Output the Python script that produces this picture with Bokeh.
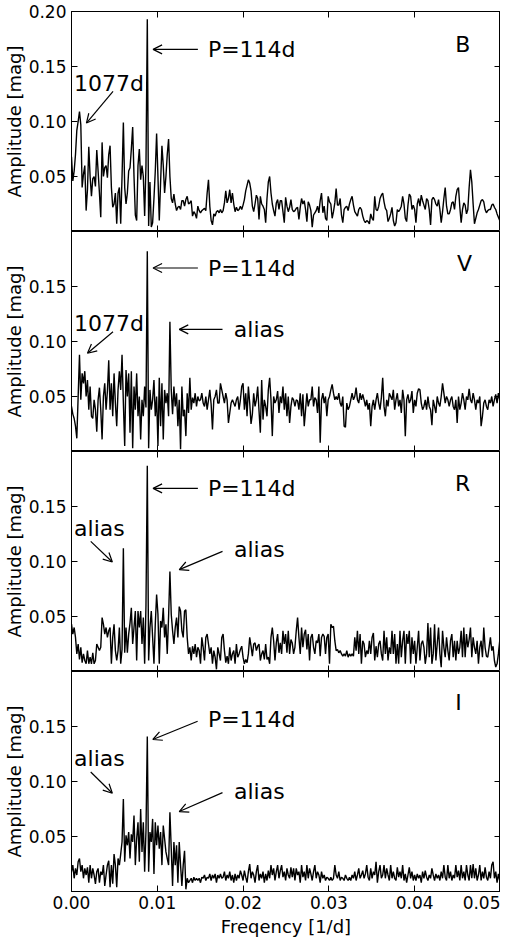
from bokeh.plotting import figure
from bokeh.models import (Range1d, LinearAxis, FixedTicker, PrintfTickFormatter,
                          Label, Arrow, OpenHead)
from bokeh.layouts import column
from bokeh.embed import file_html
from bokeh.resources import INLINE

# ---------------- data ----------------
# frequency grid in micro-cycles per day
FREQ_UD = [
    0, 155, 310, 465, 620, 775, 930, 1085, 1240, 1395,
    1550, 1705, 1860, 2015, 2170, 2325, 2480, 2635, 2790, 2945,
    3100, 3255, 3410, 3565, 3720, 3875, 4030, 4185, 4340, 4495,
    4650, 4805, 4960, 5115, 5270, 5425, 5580, 5735, 5890, 6045,
    6200, 6355, 6510, 6665, 6820, 6975, 7130, 7285, 7440, 7595,
    7750, 7905, 8060, 8215, 8370, 8525, 8680, 8835, 8990, 9145,
    9300, 9455, 9610, 9765, 9920, 10075, 10230, 10385, 10540, 10695,
    10850, 11005, 11160, 11315, 11470, 11625, 11780, 11935, 12090, 12245,
    12400, 12555, 12710, 12865, 13020, 13175, 13330, 13485, 13640, 13795,
    13950, 14105, 14260, 14415, 14570, 14725, 14880, 15035, 15190, 15345,
    15500, 15655, 15810, 15965, 16120, 16275, 16430, 16585, 16740, 16895,
    17050, 17205, 17360, 17515, 17670, 17825, 17980, 18135, 18290, 18445,
    18600, 18755, 18910, 19065, 19220, 19375, 19530, 19685, 19840, 19995,
    20150, 20305, 20460, 20615, 20770, 20925, 21080, 21235, 21390, 21545,
    21700, 21855, 22010, 22165, 22320, 22475, 22630, 22785, 22940, 23095,
    23250, 23405, 23560, 23715, 23870, 24025, 24180, 24335, 24490, 24645,
    24800, 24955, 25110, 25265, 25420, 25575, 25730, 25885, 26040, 26195,
    26350, 26505, 26660, 26815, 26970, 27125, 27280, 27435, 27590, 27745,
    27900, 28055, 28210, 28365, 28520, 28675, 28830, 28985, 29140, 29295,
    29450, 29605, 29760, 29915, 30070, 30225, 30380, 30535, 30690, 30845,
    31000, 31155, 31310, 31465, 31620, 31775, 31930, 32085, 32240, 32395,
    32550, 32705, 32860, 33015, 33170, 33325, 33480, 33635, 33790, 33945,
    34100, 34255, 34410, 34565, 34720, 34875, 35030, 35185, 35340, 35495,
    35650, 35805, 35960, 36115, 36270, 36425, 36580, 36735, 36890, 37045,
    37200, 37355, 37510, 37665, 37820, 37975, 38130, 38285, 38440, 38595,
    38750, 38905, 39060, 39215, 39370, 39525, 39680, 39835, 39990, 40145,
    40300, 40455, 40610, 40765, 40920, 41075, 41230, 41385, 41540, 41695,
    41850, 42005, 42160, 42315, 42470, 42625, 42780, 42935, 43090, 43245,
    43400, 43555, 43710, 43865, 44020, 44175, 44330, 44485, 44640, 44795,
    44950, 45105, 45260, 45415, 45570, 45725, 45880, 46035, 46190, 46345,
    46500, 46655, 46810, 46965, 47120, 47275, 47430, 47585, 47740, 47895,
    48050, 48205, 48360, 48515, 48670, 48825, 48980, 49135, 49290, 49445,
    49600, 49755, 49910,
]

AMP_B = [
    0.068, 0.046, 0.055, 0.070, 0.092, 0.100, 0.109, 0.097, 0.040, 0.052,
    0.060, 0.019, 0.038, 0.077, 0.050, 0.032, 0.048, 0.050, 0.041, 0.074,
    0.055, 0.035, 0.013, 0.081, 0.050, 0.058, 0.060, 0.049, 0.070, 0.078,
    0.040, 0.022, 0.025, 0.035, 0.007, 0.035, 0.040, 0.007, 0.050, 0.099,
    0.040, 0.025, 0.035, 0.055, 0.058, 0.075, 0.095, 0.050, 0.015, 0.010,
    0.060, 0.075, 0.047, 0.060, 0.050, 0.014, 0.060, 0.193, 0.005, 0.045,
    0.004, 0.008, 0.030, 0.055, 0.089, 0.050, 0.010, 0.045, 0.078, 0.060,
    0.035, 0.050, 0.070, 0.084, 0.050, 0.030, 0.026, 0.034, 0.025, 0.019,
    0.022, 0.023, 0.020, 0.028, 0.028, 0.023, 0.029, 0.032, 0.025, 0.026,
    0.028, 0.014, 0.018, 0.016, 0.012, 0.023, 0.019, 0.017, 0.019, 0.020,
    0.021, 0.019, 0.035, 0.047, 0.023, 0.010, 0.006, 0.016, 0.014, 0.018,
    0.019, 0.017, 0.020, 0.017, 0.019, 0.026, 0.037, 0.026, 0.030, 0.038,
    0.026, 0.035, 0.025, 0.018, 0.022, 0.019, 0.020, 0.023, 0.020, 0.024,
    0.029, 0.037, 0.042, 0.047, 0.044, 0.037, 0.023, 0.018, 0.025, 0.033,
    0.030, 0.011, 0.032, 0.025, 0.023, 0.020, 0.008, 0.030, 0.045, 0.050,
    0.035, 0.025, 0.019, 0.014, 0.026, 0.029, 0.020, 0.028, 0.028, 0.018,
    0.008, 0.031, 0.023, 0.018, 0.022, 0.029, 0.020, 0.018, 0.019, 0.021,
    0.022, 0.011, 0.022, 0.030, 0.025, 0.028, 0.020, 0.009, 0.027, 0.024,
    0.019, 0.004, 0.015, 0.017, 0.019, 0.023, 0.017, 0.028, 0.035, 0.017,
    0.023, 0.012, 0.010, 0.032, 0.027, 0.025, 0.012, 0.018, 0.026, 0.039,
    0.024, 0.024, 0.030, 0.015, 0.008, 0.020, 0.022, 0.023, 0.019, 0.025,
    0.029, 0.032, 0.024, 0.018, 0.016, 0.014, 0.020, 0.022, 0.020, 0.014,
    0.010, 0.008, 0.010, 0.009, 0.007, 0.016, 0.012, 0.010, 0.032, 0.020,
    0.019, 0.023, 0.030, 0.033, 0.035, 0.027, 0.021, 0.019, 0.009, 0.012,
    0.016, 0.022, 0.010, 0.005, 0.008, 0.020, 0.018, 0.020, 0.023, 0.032,
    0.025, 0.012, 0.009, 0.024, 0.034, 0.032, 0.020, 0.024, 0.020, 0.008,
    0.025, 0.030, 0.023, 0.033, 0.028, 0.024, 0.020, 0.030, 0.028, 0.020,
    0.006, 0.029, 0.031, 0.029, 0.025, 0.023, 0.029, 0.020, 0.008, 0.018,
    0.030, 0.040, 0.023, 0.016, 0.016, 0.020, 0.026, 0.027, 0.020, 0.032,
    0.038, 0.040, 0.022, 0.008, 0.020, 0.026, 0.024, 0.016, 0.020, 0.040,
    0.056, 0.045, 0.025, 0.007, 0.012, 0.017, 0.020, 0.024, 0.028, 0.029,
    0.027, 0.020, 0.017, 0.019, 0.020, 0.020, 0.024, 0.025, 0.022, 0.020,
    0.016, 0.013, 0.010,
]

AMP_V = [
    0.041, 0.034, 0.030, 0.023, 0.012, 0.050, 0.088, 0.047, 0.071, 0.062,
    0.073, 0.050, 0.065, 0.038, 0.059, 0.032, 0.030, 0.047, 0.038, 0.018,
    0.047, 0.058, 0.038, 0.011, 0.050, 0.062, 0.038, 0.055, 0.083, 0.038,
    0.062, 0.032, 0.071, 0.044, 0.023, 0.056, 0.073, 0.056, 0.088, 0.044,
    0.005, 0.074, 0.050, 0.071, 0.017, 0.073, 0.003, 0.059, 0.038, 0.071,
    0.032, 0.050, 0.011, 0.047, 0.032, 0.059, 0.040, 0.182, 0.003, 0.056,
    0.038, 0.047, 0.065, 0.032, 0.050, 0.005, 0.067, 0.023, 0.062, 0.011,
    0.056, 0.044, 0.053, 0.032, 0.118, 0.056, 0.034, 0.059, 0.041, 0.053,
    0.023, 0.047, 0.002, 0.059, 0.032, 0.038, 0.014, 0.053, 0.035, 0.067,
    0.038, 0.049, 0.044, 0.053, 0.041, 0.050, 0.046, 0.047, 0.053, 0.044,
    0.041, 0.050, 0.038, 0.047, 0.056, 0.043, 0.020, 0.047, 0.050, 0.056,
    0.044, 0.044, 0.062, 0.056, 0.050, 0.044, 0.053, 0.047, 0.026, 0.035,
    0.044, 0.047, 0.044, 0.041, 0.047, 0.050, 0.038, 0.047, 0.059, 0.062,
    0.038, 0.053, 0.032, 0.059, 0.044, 0.025, 0.034, 0.053, 0.041, 0.047,
    0.059, 0.037, 0.017, 0.065, 0.029, 0.047, 0.041, 0.032, 0.056, 0.067,
    0.047, 0.014, 0.050, 0.044, 0.047, 0.055, 0.035, 0.050, 0.044, 0.059,
    0.038, 0.053, 0.032, 0.050, 0.026, 0.041, 0.049, 0.047, 0.041, 0.047,
    0.046, 0.038, 0.053, 0.032, 0.052, 0.023, 0.038, 0.053, 0.041, 0.047,
    0.047, 0.059, 0.041, 0.049, 0.047, 0.035, 0.059, 0.008, 0.047, 0.053,
    0.044, 0.050, 0.032, 0.047, 0.050, 0.056, 0.061, 0.053, 0.047, 0.050,
    0.047, 0.053, 0.044, 0.041, 0.050, 0.023, 0.022, 0.044, 0.038, 0.041,
    0.047, 0.053, 0.047, 0.050, 0.058, 0.047, 0.044, 0.053, 0.047, 0.052,
    0.047, 0.041, 0.047, 0.038, 0.044, 0.023, 0.041, 0.047, 0.038, 0.047,
    0.053, 0.044, 0.038, 0.049, 0.067, 0.041, 0.032, 0.047, 0.041, 0.053,
    0.050, 0.047, 0.056, 0.038, 0.047, 0.053, 0.041, 0.047, 0.035, 0.056,
    0.047, 0.014, 0.047, 0.052, 0.044, 0.047, 0.055, 0.035, 0.047, 0.041,
    0.053, 0.057, 0.056, 0.044, 0.038, 0.041, 0.047, 0.038, 0.050, 0.041,
    0.038, 0.024, 0.047, 0.041, 0.035, 0.050, 0.044, 0.041, 0.050, 0.062,
    0.053, 0.044, 0.050, 0.047, 0.041, 0.047, 0.050, 0.041, 0.038, 0.047,
    0.026, 0.050, 0.038, 0.044, 0.053, 0.047, 0.038, 0.050, 0.047, 0.057,
    0.047, 0.044, 0.053, 0.047, 0.038, 0.047, 0.044, 0.050, 0.023, 0.032,
    0.044, 0.047, 0.041, 0.038, 0.047, 0.044, 0.050, 0.041, 0.047, 0.052,
    0.044, 0.053, 0.047,
]

AMP_R = [
    0.043, 0.034, 0.040, 0.031, 0.016, 0.025, 0.011, 0.022, 0.008, 0.016,
    0.010, 0.007, 0.019, 0.007, 0.013, 0.007, 0.017, 0.007, 0.010, 0.025,
    0.022, 0.019, 0.022, 0.049, 0.043, 0.034, 0.040, 0.031, 0.037, 0.040,
    0.007, 0.031, 0.043, 0.019, 0.010, 0.019, 0.040, 0.007, 0.020, 0.112,
    0.017, 0.040, 0.017, 0.034, 0.044, 0.058, 0.025, 0.040, 0.055, 0.010,
    0.055, 0.040, 0.055, 0.025, 0.049, 0.007, 0.060, 0.187, 0.010, 0.040,
    0.055, 0.031, 0.007, 0.043, 0.070, 0.052, 0.007, 0.046, 0.040, 0.058,
    0.031, 0.043, 0.016, 0.050, 0.091, 0.052, 0.037, 0.025, 0.040, 0.049,
    0.031, 0.059, 0.055, 0.037, 0.031, 0.055, 0.056, 0.031, 0.016, 0.022,
    0.010, 0.023, 0.016, 0.025, 0.013, 0.022, 0.019, 0.007, 0.031, 0.022,
    0.010, 0.031, 0.034, 0.025, 0.016, 0.022, 0.007, 0.019, 0.013, 0.002,
    0.022, 0.016, 0.010, 0.031, 0.034, 0.019, 0.008, 0.014, 0.007, 0.022,
    0.010, 0.016, 0.019, 0.007, 0.025, 0.013, 0.016, 0.020, 0.023, 0.013,
    0.007, 0.011, 0.008, 0.016, 0.031, 0.023, 0.014, 0.025, 0.026, 0.019,
    0.023, 0.025, 0.010, 0.016, 0.019, 0.011, 0.025, 0.011, 0.013, 0.007,
    0.031, 0.040, 0.028, 0.010, 0.026, 0.034, 0.017, 0.026, 0.016, 0.037,
    0.025, 0.034, 0.017, 0.037, 0.016, 0.029, 0.026, 0.016, 0.022, 0.037,
    0.049, 0.031, 0.016, 0.040, 0.022, 0.034, 0.038, 0.020, 0.034, 0.010,
    0.031, 0.034, 0.022, 0.016, 0.028, 0.026, 0.034, 0.014, 0.031, 0.034,
    0.032, 0.016, 0.031, 0.034, 0.007, 0.043, 0.040, 0.041, 0.028, 0.019,
    0.020, 0.017, 0.019, 0.016, 0.014, 0.016, 0.014, 0.019, 0.013, 0.016,
    0.014, 0.016, 0.014, 0.031, 0.019, 0.037, 0.016, 0.034, 0.007, 0.028,
    0.025, 0.013, 0.019, 0.016, 0.028, 0.016, 0.031, 0.035, 0.010, 0.023,
    0.013, 0.025, 0.028, 0.016, 0.010, 0.037, 0.016, 0.031, 0.010, 0.022,
    0.016, 0.037, 0.016, 0.034, 0.007, 0.025, 0.007, 0.037, 0.013, 0.028,
    0.037, 0.007, 0.034, 0.025, 0.037, 0.007, 0.031, 0.016, 0.028, 0.007,
    0.022, 0.037, 0.010, 0.025, 0.028, 0.022, 0.007, 0.016, 0.044, 0.013,
    0.040, 0.007, 0.016, 0.043, 0.010, 0.025, 0.040, 0.016, 0.004, 0.037,
    0.022, 0.013, 0.031, 0.019, 0.010, 0.028, 0.034, 0.013, 0.028, 0.010,
    0.028, 0.016, 0.022, 0.037, 0.013, 0.040, 0.013, 0.034, 0.022, 0.029,
    0.040, 0.013, 0.031, 0.022, 0.016, 0.028, 0.007, 0.022, 0.028, 0.013,
    0.040, 0.022, 0.014, 0.013, 0.022, 0.031, 0.019, 0.023, 0.010, 0.004,
    0.007, 0.016, 0.028,
]

AMP_I = [
    0.018, 0.024, 0.012, 0.021, 0.015, 0.027, 0.030, 0.018, 0.024, 0.012,
    0.021, 0.015, 0.022, 0.008, 0.024, 0.012, 0.021, 0.015, 0.007, 0.018,
    0.021, 0.008, 0.018, 0.015, 0.024, 0.005, 0.015, 0.024, 0.028, 0.004,
    0.024, 0.007, 0.034, 0.024, 0.004, 0.030, 0.024, 0.034, 0.045, 0.084,
    0.027, 0.051, 0.042, 0.054, 0.030, 0.052, 0.045, 0.069, 0.024, 0.048,
    0.063, 0.027, 0.075, 0.036, 0.063, 0.018, 0.055, 0.141, 0.018, 0.054,
    0.045, 0.066, 0.016, 0.063, 0.042, 0.060, 0.039, 0.054, 0.024, 0.060,
    0.048, 0.036, 0.030, 0.024, 0.072, 0.039, 0.005, 0.045, 0.024, 0.042,
    0.008, 0.045, 0.024, 0.005, 0.024, 0.037, 0.002, 0.012, 0.008, 0.010,
    0.012, 0.008, 0.013, 0.010, 0.012, 0.010, 0.012, 0.008, 0.013, 0.012,
    0.015, 0.010, 0.013, 0.012, 0.016, 0.010, 0.015, 0.012, 0.016, 0.008,
    0.015, 0.012, 0.016, 0.012, 0.013, 0.018, 0.010, 0.015, 0.012, 0.018,
    0.010, 0.015, 0.008, 0.016, 0.010, 0.015, 0.012, 0.019, 0.015, 0.010,
    0.019, 0.013, 0.008, 0.018, 0.025, 0.012, 0.018, 0.015, 0.008, 0.018,
    0.024, 0.010, 0.016, 0.012, 0.018, 0.008, 0.016, 0.010, 0.019, 0.012,
    0.024, 0.015, 0.021, 0.010, 0.018, 0.024, 0.012, 0.019, 0.024, 0.013,
    0.018, 0.010, 0.021, 0.015, 0.012, 0.022, 0.013, 0.021, 0.010, 0.021,
    0.015, 0.018, 0.008, 0.024, 0.013, 0.018, 0.010, 0.024, 0.012, 0.021,
    0.016, 0.010, 0.018, 0.024, 0.012, 0.018, 0.015, 0.008, 0.018, 0.012,
    0.015, 0.010, 0.013, 0.012, 0.010, 0.013, 0.010, 0.012, 0.024, 0.015,
    0.012, 0.018, 0.010, 0.013, 0.012, 0.010, 0.015, 0.012, 0.010, 0.013,
    0.010, 0.015, 0.012, 0.018, 0.010, 0.015, 0.021, 0.012, 0.015, 0.019,
    0.012, 0.016, 0.024, 0.013, 0.010, 0.021, 0.012, 0.018, 0.015, 0.027,
    0.008, 0.018, 0.024, 0.012, 0.015, 0.024, 0.012, 0.021, 0.015, 0.010,
    0.024, 0.012, 0.018, 0.012, 0.010, 0.022, 0.013, 0.018, 0.012, 0.024,
    0.010, 0.016, 0.008, 0.015, 0.022, 0.012, 0.018, 0.010, 0.015, 0.010,
    0.016, 0.012, 0.015, 0.008, 0.018, 0.012, 0.019, 0.013, 0.010, 0.015,
    0.012, 0.021, 0.015, 0.010, 0.016, 0.012, 0.015, 0.010, 0.018, 0.012,
    0.024, 0.013, 0.010, 0.024, 0.012, 0.018, 0.010, 0.015, 0.012, 0.024,
    0.013, 0.019, 0.010, 0.024, 0.012, 0.018, 0.010, 0.024, 0.015, 0.010,
    0.024, 0.012, 0.025, 0.012, 0.021, 0.010, 0.015, 0.024, 0.010, 0.018,
    0.012, 0.022, 0.013, 0.010, 0.018, 0.012, 0.024, 0.027, 0.012, 0.018,
    0.008, 0.016, 0.010,
]

BANDS = ["B", "V", "R", "I"]
X_TICKS = [0.0, 0.01, 0.02, 0.03, 0.04, 0.05]
Y_TICKS_FIRST = [0.05, 0.10, 0.15, 0.20]
Y_TICKS_OTHER = [0.05, 0.10, 0.15]
Y_LABEL = "Amplitude [mag]"
X_LABEL = "Freqency [1/d]"

FREQ = [f / 1e6 for f in FREQ_UD]

# annotations: texts (text, x, y), arrows (x0, y0, x1, y1), band letter position
NOTES = {
    "B": dict(texts=[("P=114d", 0.0159, 0.1656), ("1077d", 0.0003, 0.135)],
              arrows=[(0.01473, 0.1656, 0.00951, 0.1656),
                      (0.00484, 0.1273, 0.00174, 0.0986)],
              letter=(0.0456, 0.170)),
    "V": dict(texts=[("P=114d", 0.0159, 0.1668), ("1077d", 0.0003, 0.1165),
                     ("alias", 0.01892, 0.111)],
              arrows=[(0.01473, 0.1668, 0.00951, 0.1668),
                      (0.00484, 0.1089, 0.00186, 0.0893),
                      (0.0176, 0.111, 0.01256, 0.111)],
              letter=(0.0458, 0.171)),
    "R": dict(texts=[("P=114d", 0.0159, 0.1665), ("alias", 0.0003, 0.130),
                     ("alias", 0.01894, 0.1107)],
              arrows=[(0.01473, 0.1665, 0.00951, 0.1665),
                      (0.00224, 0.1183, 0.00476, 0.0995),
                      (0.0176, 0.1092, 0.01256, 0.0926)],
              letter=(0.0456, 0.171)),
    "I": dict(texts=[("P=114d", 0.0159, 0.1563), ("alias", 0.0003, 0.1207),
                      ("alias", 0.01894, 0.0905)],
              arrows=[(0.0147, 0.1548, 0.00948, 0.1382),
                      (0.00224, 0.1086, 0.00476, 0.0893),
                      (0.0176, 0.0899, 0.01256, 0.0727)],
              letter=(0.0451, 0.172)),
}

FONT = "DejaVu Sans"
TICK_FONT = "17px"
LABEL_FONT = "18px"
NOTE_FONT = "22px"


def style_axis(ax, ticks, show_labels):
    ax.ticker = FixedTicker(ticks=ticks)
    ax.formatter = PrintfTickFormatter(format="%.2f")
    ax.major_tick_in = 6
    ax.major_tick_out = 0
    ax.minor_tick_in = 0
    ax.minor_tick_out = 0
    ax.major_tick_line_color = "black"
    ax.major_tick_line_width = 1
    ax.axis_line_color = "black"
    ax.axis_line_width = 1
    if show_labels:
        ax.major_label_text_font = FONT
        ax.major_label_text_font_size = TICK_FONT
        ax.major_label_text_color = "black"
    else:
        ax.major_label_overrides = {t: "" for t in ticks}
        ax.major_label_text_font_size = "0px"
        ax.major_label_standoff = 0


def make_panel(amp, band, first, last):
    n = min(len(FREQ), len(amp))
    p = figure(frame_width=429, frame_height=220,
               x_range=Range1d(0, 0.05), y_range=Range1d(0, 0.2),
               output_backend="svg", toolbar_location=None,
               x_axis_location=None, y_axis_location=None,
               min_border_top=11 if first else 0, min_border_bottom=0,
               min_border_left=0, min_border_right=0,
               background_fill_color="white", border_fill_color="white",
               outline_line_color="black", outline_line_width=1)
    p.xgrid.visible = False
    p.ygrid.visible = False
    p.line(FREQ[:n], amp[:n], line_color="black", line_width=1.4)

    yt = Y_TICKS_FIRST if first else Y_TICKS_OTHER
    left = LinearAxis(axis_label=Y_LABEL)
    style_axis(left, yt, True)
    left.major_label_standoff = 5
    left.axis_label_standoff = 1
    left.axis_label_text_font = FONT
    left.axis_label_text_font_size = LABEL_FONT
    left.axis_label_text_font_style = "normal"
    left.axis_label_text_color = "black"
    p.add_layout(left, "left")

    right = LinearAxis()
    style_axis(right, yt, False)
    p.add_layout(right, "right")

    top = LinearAxis()
    style_axis(top, X_TICKS, False)
    p.add_layout(top, "above")

    if last:
        bottom = LinearAxis(axis_label=X_LABEL)
        style_axis(bottom, X_TICKS, True)
        bottom.major_label_standoff = 4
        bottom.axis_label_standoff = 4
        bottom.axis_label_text_font = FONT
        bottom.axis_label_text_font_size = LABEL_FONT
        bottom.axis_label_text_font_style = "normal"
        bottom.axis_label_text_color = "black"
    else:
        bottom = LinearAxis()
        style_axis(bottom, X_TICKS, False)
    p.add_layout(bottom, "below")

    note = NOTES[band]
    for text, x, y in note["texts"]:
        p.add_layout(Label(x=x, y=y, text=text, text_font=FONT,
                           text_font_size=NOTE_FONT, text_baseline="middle",
                           text_align="left", text_color="black"))
    for x0, y0, x1, y1 in note["arrows"]:
        p.add_layout(Arrow(end=OpenHead(size=9, line_width=1.2, line_color="black"),
                           x_start=x0, y_start=y0, x_end=x1, y_end=y1,
                           line_width=1.2, line_color="black"))
    lx, ly = note["letter"]
    p.add_layout(Label(x=lx, y=ly, text=band, text_font=FONT,
                       text_font_size=NOTE_FONT, text_baseline="middle",
                       text_align="center", text_color="black"))
    return p


amps = [AMP_B, AMP_V, AMP_R, AMP_I]
panels = [make_panel(a, b, i == 0, i == 3) for i, (a, b) in enumerate(zip(amps, BANDS))]
layout = column(*panels, spacing=0)

open("out.html", "w").write(file_html(layout, INLINE))
